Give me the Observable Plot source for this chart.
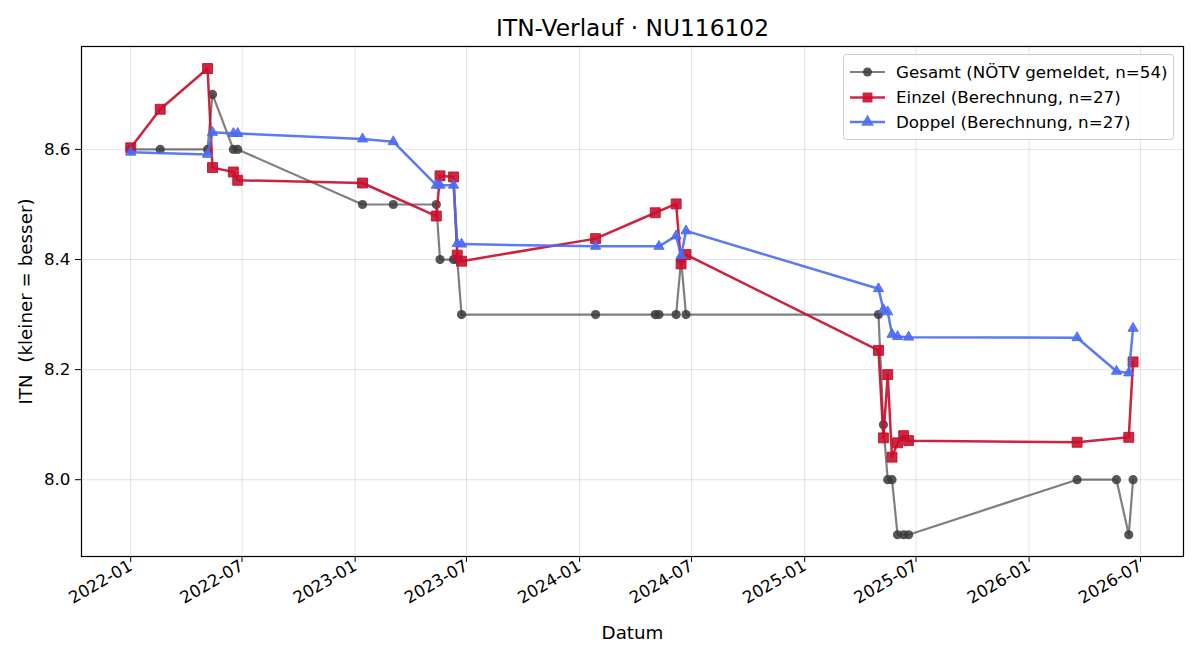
<!DOCTYPE html>
<html><head><meta charset="utf-8">
<script src="https://cdn.jsdelivr.net/npm/d3@7"></script>
<script src="https://cdn.jsdelivr.net/npm/@observablehq/plot@0.6"></script>
<style>
body{margin:0;background:#fff;font-family:"DejaVu Sans",sans-serif}
#wrap{position:relative;width:1200px;height:660px;overflow:hidden}
#legend{position:absolute;left:0;top:0}
</style></head><body><div id="wrap"></div>
<script>
const title = "ITN-Verlauf · NU116102";
const xLabel = "Datum";
const yLabel = "ITN\u00a0 (kleiner = besser)";
const xTickLabels = ["2022-01","2022-07","2023-01","2023-07","2024-01","2024-07","2025-01","2025-07","2026-01","2026-07"];
const yTickValues = [8.0, 8.2, 8.4, 8.6];

const gesamtDates = ["2022-01-01","2022-02-18","2022-05-06","2022-05-14","2022-06-17","2022-06-24",
  "2023-01-13","2023-03-04","2023-05-13","2023-05-19","2023-06-10","2023-06-16","2023-06-23",
  "2024-01-27","2024-05-03","2024-05-09","2024-06-06","2024-06-14","2024-06-22",
  "2025-05-01","2025-05-09","2025-05-16","2025-05-23","2025-06-01","2025-06-11","2025-06-19",
  "2026-03-20","2026-05-23","2026-06-12","2026-06-19"];
const gesamtValues = [8.6,8.6,8.6,8.7,8.6,8.6,
  8.5,8.5,8.5,8.4,8.4,8.4,8.3,
  8.3,8.3,8.3,8.3,8.4,8.3,
  8.3,8.1,8.0,8.0,7.9,7.9,7.9,
  8.0,8.0,7.9,8.0];

const einzelDates = ["2022-01-01","2022-02-18","2022-05-06","2022-05-14","2022-06-17","2022-06-24",
  "2023-01-13","2023-05-13","2023-05-19","2023-06-10","2023-06-16","2023-06-23",
  "2024-01-27","2024-05-03","2024-06-06","2024-06-14","2024-06-22",
  "2025-05-01","2025-05-09","2025-05-16","2025-05-23","2025-06-01","2025-06-11","2025-06-19",
  "2026-03-20","2026-06-12","2026-06-19"];
const einzelValues = [8.603,8.673,8.747,8.567,8.559,8.544,
  8.539,8.479,8.552,8.550,8.408,8.397,
  8.438,8.485,8.501,8.392,8.409,
  8.235,8.076,8.191,8.041,8.067,8.080,8.071,
  8.068,8.077,8.214];

const doppelDates = ["2022-01-01","2022-05-06","2022-05-14","2022-06-17","2022-06-24",
  "2023-01-13","2023-03-04","2023-05-13","2023-05-19","2023-06-10","2023-06-16","2023-06-23",
  "2024-01-27","2024-05-09","2024-06-06","2024-06-14","2024-06-22",
  "2025-05-01","2025-05-09","2025-05-16","2025-05-23","2025-06-01","2025-06-19",
  "2026-03-20","2026-05-23","2026-06-12","2026-06-19"];
const doppelValues = [8.595,8.591,8.631,8.629,8.629,
  8.619,8.614,8.535,8.535,8.535,8.429,8.428,
  8.424,8.424,8.443,8.407,8.452,
  8.347,8.309,8.305,8.264,8.260,8.259,
  8.258,8.197,8.194,8.275];

const seriesNames = ["Gesamt (NÖTV gemeldet, n=54)","Einzel (Berechnung, n=27)","Doppel (Berechnung, n=27)"];
const colors = {gesamt:"#3a3a3a", einzel:"#c8102e", doppel:"#4a6cf2"};

const parse = d3.utcParse("%Y-%m-%d");
const toRows = (dates, vals) => dates.map((d,i)=>({date: parse(d), value: vals[i]}));
const gesamt = toRows(gesamtDates, gesamtValues);
const einzel = toRows(einzelDates, einzelValues);
const doppel = toRows(doppelDates, doppelValues);
const xTicks = xTickLabels.map(s => d3.utcParse("%Y-%m")(s));

const tickFs = 16.7, labelFs = 18.3, titleFs = 23.3;

const chart = Plot.plot({
  width: 1200, height: 660,
  marginLeft: 81, marginRight: 17, marginTop: 46, marginBottom: 104,
  style: {fontFamily: "DejaVu Sans, sans-serif", fontSize: tickFs + "px", color: "#000", background: "#fff"},
  x: {type: "utc", domain: [parse("2021-10-13"), parse("2026-09-09")]},
  y: {domain: [7.8605, 8.787]},
  marks: [
    Plot.gridX(xTicks, {stroke: "#b0b0b0", strokeOpacity: 0.35, strokeWidth: 1}),
    Plot.gridY(yTickValues, {stroke: "#b0b0b0", strokeOpacity: 0.35, strokeWidth: 1}),
    Plot.axisX(xTicks, {tickFormat: d3.utcFormat("%Y-%m"), tickRotate: -30, tickSize: 6, tickPadding: 2, label: null, fontSize: tickFs}),
    Plot.axisY(yTickValues, {tickFormat: d => d.toFixed(1), tickSize: 6, tickPadding: 5, label: null, fontSize: tickFs}),
    Plot.line(gesamt, {x: "date", y: "value", stroke: colors.gesamt, strokeOpacity: 0.65, strokeWidth: 2.2}),
    Plot.dot(gesamt, {x: "date", y: "value", r: 4.6, fill: colors.gesamt, fillOpacity: 0.85, stroke: null}),
    Plot.line(einzel, {x: "date", y: "value", stroke: colors.einzel, strokeOpacity: 0.92, strokeWidth: 2.5}),
    Plot.dot(einzel, {x: "date", y: "value", symbol: "square", r: 5.6, fill: colors.einzel, fillOpacity: 0.9, stroke: colors.einzel, strokeOpacity: 0.9, strokeWidth: 1}),
    Plot.line(doppel, {x: "date", y: "value", stroke: colors.doppel, strokeOpacity: 0.9, strokeWidth: 2.5}),
    Plot.dot(doppel, {x: "date", y: "value", symbol: "triangle", r: 3.8, fill: colors.doppel, fillOpacity: 0.9, stroke: colors.doppel, strokeOpacity: 0.9, strokeWidth: 1}),
    Plot.frame({stroke: "#000", strokeWidth: 1.2}),
    Plot.text([title], {frameAnchor: "top", lineAnchor: "middle", dy: -18, fontSize: titleFs, fill: "#000"}),
    Plot.text([xLabel], {frameAnchor: "bottom", lineAnchor: "middle", dy: 77, fontSize: labelFs, fill: "#000"}),
    Plot.text([yLabel], {frameAnchor: "left", textAnchor: "middle", lineAnchor: "middle", dx: -55, rotate: -90, fontSize: labelFs, fill: "#000"})
  ]
});
const wrap = document.getElementById("wrap");
wrap.appendChild(chart);

// legend overlay
const lg = d3.select(wrap).append("svg").attr("id","legend").attr("width",1200).attr("height",660);
lg.append("rect").attr("x",843.5).attr("y",54.5).attr("width",330).attr("height",85).attr("rx",3)
  .attr("fill","#fff").attr("fill-opacity",0.8).attr("stroke","#cccccc");
const rowsY = [72, 97.5, 122];
const keys = ["gesamt","einzel","doppel"];
keys.forEach((k,i) => {
  const y = rowsY[i];
  const g = lg.append("g");
  g.append("line").attr("x1",850).attr("x2",885).attr("y1",y).attr("y2",y)
    .attr("stroke",colors[k]).attr("stroke-opacity", k==="gesamt"?0.65:0.9).attr("stroke-width", k==="gesamt"?2.2:2.5);
  if (k==="gesamt") g.append("circle").attr("cx",867.5).attr("cy",y).attr("r",4.5).attr("fill",colors[k]).attr("fill-opacity",0.85);
  if (k==="einzel") g.append("path").attr("d", d3.symbol(d3.symbolSquare, 5.6*5.6*Math.PI)()).attr("transform",`translate(867.5,${y})`).attr("fill",colors[k]).attr("fill-opacity",0.9);
  if (k==="doppel") g.append("path").attr("d", d3.symbol(d3.symbolTriangle, 3.8*3.8*Math.PI*1.6)()).attr("transform",`translate(867.5,${y})`).attr("fill",colors[k]).attr("fill-opacity",0.9);
  g.append("text").attr("x",896).attr("y",y).attr("dy","0.35em").attr("font-size",tickFs+"px")
    .attr("font-family","DejaVu Sans, sans-serif").attr("fill","#000").text(seriesNames[i]);
});
</script></body></html>
